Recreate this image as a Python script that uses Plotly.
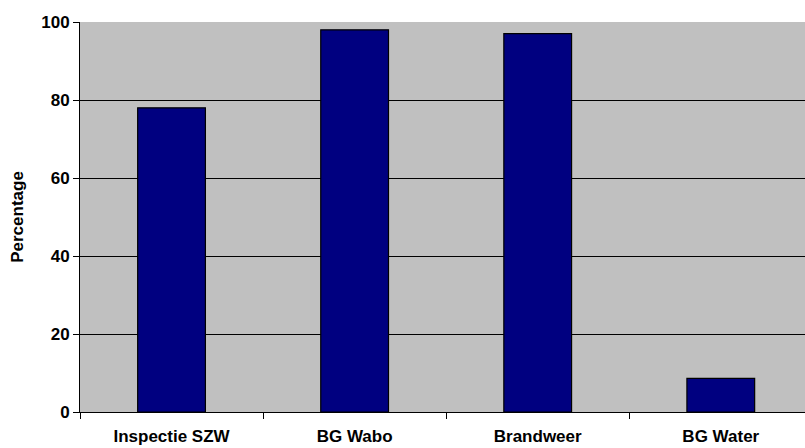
import plotly.graph_objects as go

categories = ["Inspectie SZW", "BG Wabo", "Brandweer", "BG Water"]
values = [78, 98, 97, 8.6]
y_ticks = [0, 20, 40, 60, 80, 100]

font_family = "Liberation Sans, Arial, sans-serif"

fig = go.Figure()
fig.add_trace(go.Bar(
    x=categories,
    y=values,
    width=0.37,
    marker=dict(color="#000080", line=dict(color="#000000", width=1.2)),
))

fig.update_layout(
    width=805,
    height=448,
    margin=dict(l=80, r=0, t=22, b=36),
    paper_bgcolor="white",
    plot_bgcolor="#C0C0C0",
    showlegend=False,
    font=dict(family=font_family, color="black"),
)

fig.update_xaxes(
    type="category",
    range=[-0.5, 3.46],
    automargin=False,
    showgrid=False,
    showline=True,
    linecolor="black",
    linewidth=1,
    ticks="outside",
    tickson="boundaries",
    ticklen=6,
    tickcolor="black",
    tickfont=dict(family=font_family, size=17, weight="bold", color="black"),
    ticklabelstandoff=9,
)

fig.update_yaxes(
    range=[0, 100],
    automargin=False,
    tickvals=y_ticks,
    showgrid=True,
    gridcolor="black",
    gridwidth=1,
    showline=True,
    linecolor="black",
    linewidth=1,
    ticks="outside",
    ticklen=6,
    tickcolor="black",
    tickfont=dict(family=font_family, size=17, weight="bold", color="black"),
    zeroline=False,
    title=dict(text="Percentage", font=dict(family=font_family, size=17, weight="bold", color="black"), standoff=13),
)

fig.write_html("out.html", config={"displayModeBar": False},
               post_script="document.body.style.margin='0';")
